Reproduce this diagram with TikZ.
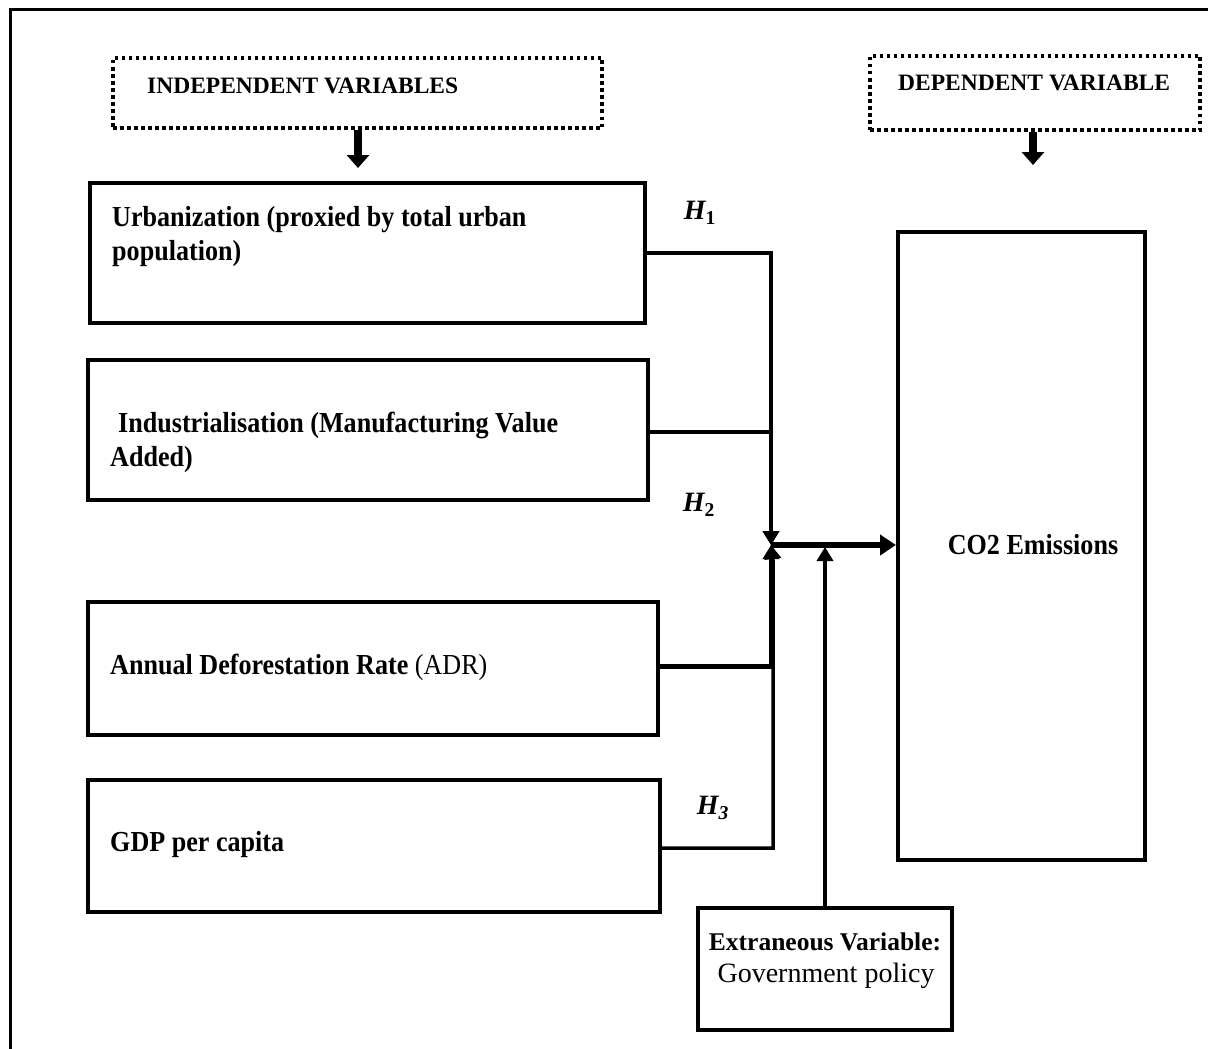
\documentclass[tikz,border=0pt]{standalone}
\usepackage{fontspec}
\setmainfont{Liberation Serif}
\newfontfamily\condfont{Liberation Serif}[FakeStretch=0.9]
\usetikzlibrary{arrows.meta}
\begin{document}
\begin{tikzpicture}[x=1pt,y=-1pt,
  box/.style={draw, line width=4pt, inner sep=0pt},
  dotbox/.style={draw, line width=3.5pt, dash pattern=on 3.5pt off 3.5pt},
  btxt/.style={inner sep=0pt, anchor=base west, font=\condfont\fontsize{29}{34}\selectfont\bfseries},
  htxt/.style={inner sep=0pt, anchor=base west, font=\fontsize{23.5}{28}\selectfont\bfseries},
  hyp/.style={inner sep=0pt, font=\fontsize{28}{32}\selectfont\bfseries\itshape},
  blockarrow/.style={line width=8pt, -{Triangle[width=22pt,length=13pt]}},
  conn/.style={line width=3.5pt, -{Triangle[width=16pt,length=14pt]}},
]
\useasboundingbox (0,0) rectangle (1208,1049);
\fill[white] (0,0) rectangle (1208,1049);
% outer frame
\draw[line width=3pt] (10,1049) -- (10,10) -- (1208,10);

% header boxes
\node[dotbox, minimum width=489pt, minimum height=70pt] (ind) at (357.5,93) {};
\node[htxt] (indt) at (147,93) {INDEPENDENT VARIABLES};
\node[dotbox, minimum width=330pt, minimum height=74pt] (dep) at (1035,93) {};
\node[htxt] (dept) at (898,90) {DEPENDENT VARIABLE};
\coordinate (indarr) at (358,168);
\coordinate (deparr) at (1033,165);
\draw[blockarrow] (ind.south -| indarr) -- (indarr);
\draw[blockarrow] (dep.south -| deparr) -- (deparr);

% variable boxes
\node[box, minimum width=555pt, minimum height=140pt] (b1) at (367.5,253) {};
\node[btxt] (b1t) at (112,226) {Urbanization (proxied by total urban};
\node[btxt] (b1u) at (112,260) {population)};
\node[box, minimum width=560pt, minimum height=140pt] (b2) at (368,430) {};
\node[btxt] (b2t) at (118,432) {Industrialisation (Manufacturing Value};
\node[btxt] (b2u) at (110,466) {Added)};
\node[box, minimum width=570pt, minimum height=133pt] (b3) at (373,668.5) {};
\node[btxt] (b3t) at (110,674) {Annual Deforestation Rate {\mdseries(ADR)}};
\node[box, minimum width=572pt, minimum height=132pt] (b4) at (374,846) {};
\node[btxt] (b4t) at (110,851) {GDP per capita};

% dependent box
\node[box, minimum width=247pt, minimum height=628pt] (co2) at (1021.5,546) {};
\node[inner sep=0pt, font=\condfont\fontsize{29}{34}\selectfont\bfseries] (co2t) at (1033,545) {CO2 Emissions};

% extraneous
\node[box, minimum width=254pt, minimum height=122pt] (ext) at (825,969) {};
\node[inner sep=0pt, font=\fontsize{25.5}{30}\selectfont\bfseries] (extt) at (825,942) {Extraneous Variable:};
\node[inner sep=0pt, font=\fontsize{28}{32}\selectfont] (extu) at (826,976) {Government policy};

% hypothesis labels
\node[hyp] (h1) at (700,213) {H\textsubscript{\upshape 1}};
\node[hyp] (h2) at (699,505) {H\textsubscript{\upshape 2}};
\node[hyp] (h3) at (713,808) {H\textsubscript{3}};

% connectors
\coordinate (jn) at (771,545);
\coordinate (jx) at (825,547);
\draw[conn] (b1.east |- 0,253) -| (jn);
\draw[conn] (b2.east |- 0,432) -| (jn);
\draw[conn, line width=5pt] (b3.east |- 0,666) -| (jn);
\draw[conn] (b4.east |- 0,848) -| (773,560) -- (jn);
\draw[line width=6pt, -{Triangle[width=20pt,length=16pt]}] (jn) -- (co2.west |- jn);
\draw[conn] (ext.north -| jx) -- (jx);
\end{tikzpicture}
\end{document}
